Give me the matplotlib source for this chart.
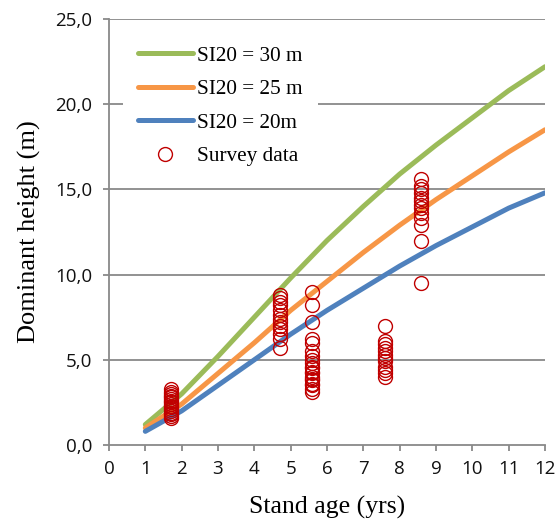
import matplotlib
matplotlib.use("Agg")
import matplotlib.pyplot as plt
from matplotlib.ticker import FuncFormatter

ages = [1, 2, 3, 4, 5, 6, 7, 8, 9, 10, 11, 12]
si30 = [1.2, 3.0, 5.2, 7.5, 9.8, 12.0, 14.0, 15.9, 17.6, 19.2, 20.8, 22.2]
si25 = [1.0, 2.4, 4.2, 6.0, 7.9, 9.6, 11.3, 12.9, 14.4, 15.8, 17.2, 18.5]
si20 = [0.8, 2.0, 3.5, 5.0, 6.5, 7.9, 9.2, 10.5, 11.7, 12.8, 13.9, 14.8]

survey_age_17 = [1.6, 1.7, 1.8, 1.9, 2.0, 2.1, 2.2, 2.3, 2.4, 2.5, 2.6, 2.7, 2.8, 2.9, 3.0, 3.1, 3.3]
survey_age_47 = [8.8, 8.6, 8.4, 8.2, 7.9, 7.6, 7.4, 7.2, 7.0, 6.8, 6.5, 6.2, 5.7]
survey_age_56 = [9.0, 8.2, 7.2, 6.2, 6.0, 5.5, 5.2, 5.0, 4.8, 4.6, 4.5, 4.3, 4.2, 4.0, 3.9, 3.8, 3.6, 3.5, 3.3, 3.1]
survey_age_76 = [7.0, 6.1, 5.9, 5.7, 5.5, 5.3, 5.1, 4.9, 4.6, 4.4, 4.2, 4.0]
survey_age_86 = [15.6, 15.2, 15.0, 14.8, 14.5, 14.3, 14.1, 13.9, 13.6, 13.3, 12.9, 12.0, 9.5]
survey_ages = [1.7, 4.7, 5.6, 7.6, 8.6]

survey_x = []
survey_y = []
for a, vals in zip(survey_ages, [survey_age_17, survey_age_47, survey_age_56, survey_age_76, survey_age_86]):
    survey_x += [a] * len(vals)
    survey_y += vals

fig = plt.figure(figsize=(5.6, 5.24), dpi=100)
ax = fig.add_axes([0.1946, 0.1508, 0.9732 - 0.1946, 0.9637 - 0.1508])

grey = "#898989"
for v in [5, 10, 15, 20, 25]:
    ax.axhline(v, color=grey, lw=1.3, zorder=0)

ax.plot(ages, si30, color="#9BBB59", lw=3.6, solid_capstyle="round", label="SI20 = 30 m", zorder=2)
ax.plot(ages, si25, color="#F79646", lw=3.6, solid_capstyle="round", label="SI20 = 25 m", zorder=2)
ax.plot(ages, si20, color="#4F81BD", lw=3.6, solid_capstyle="round", label="SI20 = 20m", zorder=2)
ax.plot(survey_x, survey_y, linestyle="none", marker="o", markersize=10, markerfacecolor="none",
        markeredgecolor="#C00000", markeredgewidth=1.0, label="Survey data", zorder=3)

ax.set_xlim(0, 12)
ax.set_ylim(0, 25)
ax.set_xticks(range(0, 13))
ax.set_yticks([0, 5, 10, 15, 20, 25])
ax.yaxis.set_major_formatter(FuncFormatter(lambda v, p: f"{v:.1f}".replace(".", ",")))

for s in ["top", "right"]:
    ax.spines[s].set_visible(False)
for s in ["left", "bottom"]:
    ax.spines[s].set_color(grey)
    ax.spines[s].set_linewidth(1.3)
ax.tick_params(axis="both", direction="out", length=4, width=1.3, color=grey,
               labelsize=13.5, labelcolor="#111111")
ax.tick_params(axis="x", pad=7)
ax.tick_params(axis="y", pad=8)
for lab in ax.get_xticklabels() + ax.get_yticklabels():
    lab.set_family("Open Sans")

ax.set_xlabel("Stand age (yrs)", family="Liberation Serif", fontsize=18.5)
ax.set_ylabel("Dominant height (m)", family="Liberation Serif", fontsize=19)
ax.xaxis.set_label_coords(0.5, -0.12)
ax.yaxis.set_label_coords(-0.155, 0.5)

leg = ax.legend(loc="upper left", bbox_to_anchor=(0.032, 0.972), borderaxespad=0,
                frameon=True, fancybox=False,
                prop={"family": "Liberation Serif", "size": 15.3}, handlelength=2.6,
                handletextpad=0.2, labelspacing=0.64, borderpad=0.7)
leg.get_frame().set_facecolor("white")
leg.get_frame().set_edgecolor("none")
leg.get_frame().set_alpha(1)

fig.savefig("out.png", dpi=100)
